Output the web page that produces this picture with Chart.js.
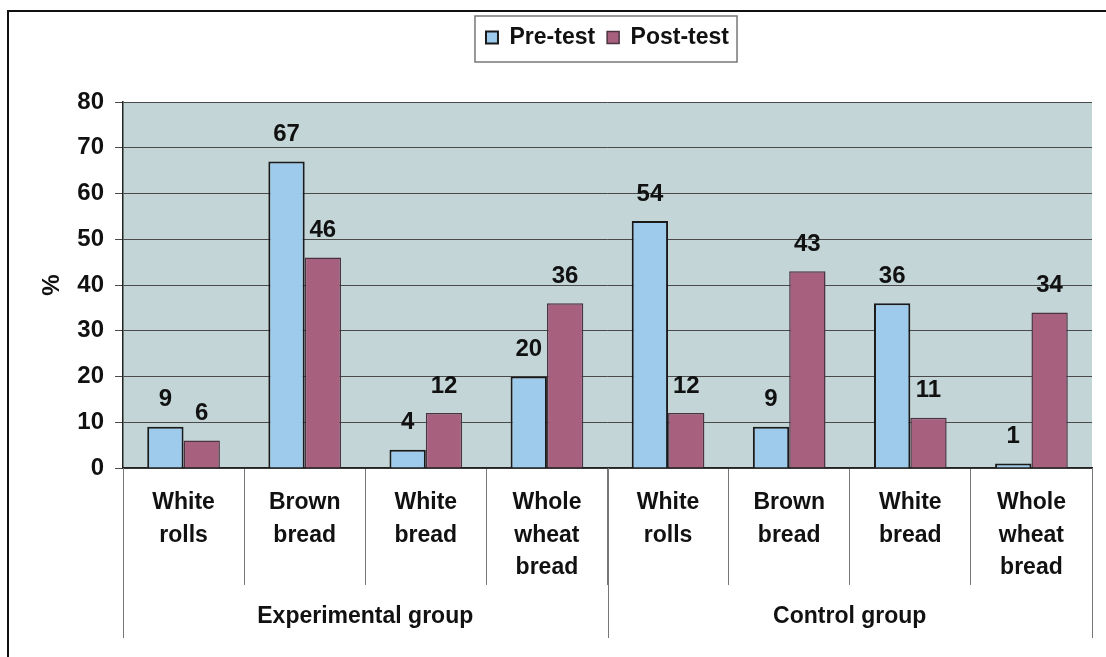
<!DOCTYPE html>
<html>
<head>
<meta charset="utf-8">
<title>Bread choice pre/post test</title>
<script src="https://cdn.jsdelivr.net/npm/chart.js@4.4.1/dist/chart.umd.min.js"></script>
<style>
  html, body { margin: 0; padding: 0; background: #fff; }
  #wrap { width: 1106px; height: 657px; position: relative; }
</style>
</head>
<body>
<div id="wrap"><canvas id="breadChart"></canvas></div>
<script>
// categories (multi-line labels) and the two groups they belong to
const categorias = [
    ['White', 'rolls'], ['Brown', 'bread'], ['White', 'bread'], ['Whole', 'wheat', 'bread'],
    ['White', 'rolls'], ['Brown', 'bread'], ['White', 'bread'], ['Whole', 'wheat', 'bread']
];
const grupos = ['Experimental group', 'Control group'];
const porGrupo = 4;

// % values
const preTest = [9, 67, 4, 20, 54, 9, 36, 1];
const postTest = [6, 46, 12, 36, 12, 43, 11, 34];

const yMin = 0, yMax = 80, yPaso = 10;

const fuente = '"Liberation Sans", Arial, sans-serif';
const ctx = document.getElementById('breadChart').getContext('2d');

// push the plot down below the legend, and centre the legend on the plot area
// (hit boxes get recomputed by the legend plugin's own afterUpdate)
const margenLeyenda = {
    id: 'margenLeyenda',
    beforeInit(chart) {
        const fitOriginal = chart.legend.fit;
        chart.legend.fit = function () {
            fitOriginal.bind(chart.legend)();
            this.height += 43;
        };
    },
    afterLayout(chart) {
        chart.legend.left = chart.chartArea.left;
        chart.legend.right = chart.chartArea.right;
    }
};

// grey-blue plot background + outer frame + legend border
const fondo = {
    id: 'fondo',
    beforeDraw(chart) {
        const { ctx, chartArea } = chart;
        ctx.save();
        ctx.fillStyle = '#c3d5d7';
        ctx.fillRect(chartArea.left, chartArea.top, chartArea.right - chartArea.left, chartArea.bottom - chartArea.top);
        ctx.restore();
    },
    afterDraw(chart) {
        const c = chart.ctx;
        c.save();
        // outer frame (top and left only, as in the scan)
        c.strokeStyle = '#111';
        c.lineWidth = 2;
        c.beginPath();
        c.moveTo(8, chart.height);
        c.lineTo(8, 11);
        c.lineTo(chart.width, 11);
        c.stroke();
        // legend border
        const cajas = chart.legend.legendHitBoxes;
        if (cajas && cajas.length) {
            const izq = Math.min(...cajas.map(b => b.left));
            const der = Math.max(...cajas.map(b => b.left + b.width));
            const arr = Math.min(...cajas.map(b => b.top));
            const aba = Math.max(...cajas.map(b => b.top + b.height));
            c.strokeStyle = '#777';
            c.lineWidth = 1.5;
            c.strokeRect(izq - 11, arr - 10, der - izq + 19, aba - arr + 23);
        }
        c.restore();
    }
};

// value labels above the bars
const etiquetas = {
    id: 'etiquetas',
    afterDatasetsDraw(chart) {
        const c = chart.ctx;
        c.save();
        c.font = 'bold 24px ' + fuente;
        c.fillStyle = '#111';
        c.textAlign = 'center';
        c.textBaseline = 'middle';
        chart.data.datasets.forEach((ds, i) => {
            chart.getDatasetMeta(i).data.forEach((barra, j) => {
                c.fillText(String(ds.data[j]), barra.x, barra.y - 27);
            });
        });
        c.restore();
    }
};

// second level of the category axis: group names + long separators
const ejeGrupos = {
    id: 'ejeGrupos',
    afterDraw(chart) {
        const x = chart.scales.x;
        const area = chart.chartArea;
        const c = chart.ctx;
        const bordes = [area.left];
        for (let g = 1; g < grupos.length; g++) {
            const k = g * porGrupo;
            bordes.push((x.getPixelForValue(k - 1) + x.getPixelForValue(k)) / 2);
        }
        bordes.push(area.right);
        c.save();
        c.strokeStyle = '#777';
        c.lineWidth = 1;
        bordes.forEach(px => {
            c.beginPath();
            c.moveTo(Math.round(px) + 0.5, area.bottom);
            c.lineTo(Math.round(px) + 0.5, area.bottom + 170);
            c.stroke();
        });
        c.font = 'bold 23px ' + fuente;
        c.fillStyle = '#111';
        c.textAlign = 'center';
        c.textBaseline = 'middle';
        grupos.forEach((nombre, g) => {
            c.fillText(nombre, (bordes[g] + bordes[g + 1]) / 2, area.bottom + 149);
        });
        c.restore();
    }
};

const myChart = new Chart(ctx, {
    type: 'bar',
    data: {
        labels: categorias,
        datasets: [{
            label: 'Pre-test',
            data: preTest,
            backgroundColor: '#9ecbec',
            borderColor: '#1a1a1a',
            borderWidth: 2,
            categoryPercentage: 0.6,
            barPercentage: 1
        }, {
            label: 'Post-test',
            data: postTest,
            backgroundColor: '#a8607f',
            borderColor: '#4b3340',
            borderWidth: 1.5,
            categoryPercentage: 0.6,
            barPercentage: 1
        }]
    },
    options: {
        responsive: true,
        maintainAspectRatio: false,
        animation: false,
        layout: { padding: { left: 10, right: 14, top: 14, bottom: 0 } },
        plugins: {
            legend: {
                position: 'top',
                labels: {
                    color: '#111',
                    font: { family: fuente, size: 23, weight: 'bold' },
                    boxWidth: 12,
                    boxHeight: 12,
                    padding: 12
                }
            },
            tooltip: { enabled: false }
        },
        scales: {
            x: {
                offset: true,
                afterFit(scale) { scale.height = 189; },
                grid: {
                    offset: true,
                    drawOnChartArea: false,
                    drawTicks: true,
                    tickLength: 117,
                    color: '#777',
                    lineWidth: 1
                },
                border: { display: true, color: '#222', width: 1.5 },
                ticks: {
                    autoSkip: false,
                    maxRotation: 0,
                    color: '#111',
                    padding: -98,
                    font: { family: fuente, size: 23, weight: 'bold', lineHeight: 1.4 }
                }
            },
            y: {
                min: yMin,
                max: yMax,
                afterFit(scale) { scale.width = 113; },
                ticks: {
                    stepSize: yPaso,
                    color: '#111',
                    padding: 11,
                    font: { family: fuente, size: 24, weight: 'bold' }
                },
                grid: {
                    color: '#4a4a4a',
                    lineWidth: 1,
                    tickLength: 8
                },
                border: { display: true, color: '#222', width: 1.5 },
                title: {
                    display: true,
                    text: '%',
                    color: '#111',
                    padding: { top: 28, bottom: 0 },
                    font: { family: fuente, size: 24, weight: 'bold' }
                }
            }
        }
    },
    plugins: [margenLeyenda, fondo, etiquetas, ejeGrupos]
});
</script>
</body>
</html>
